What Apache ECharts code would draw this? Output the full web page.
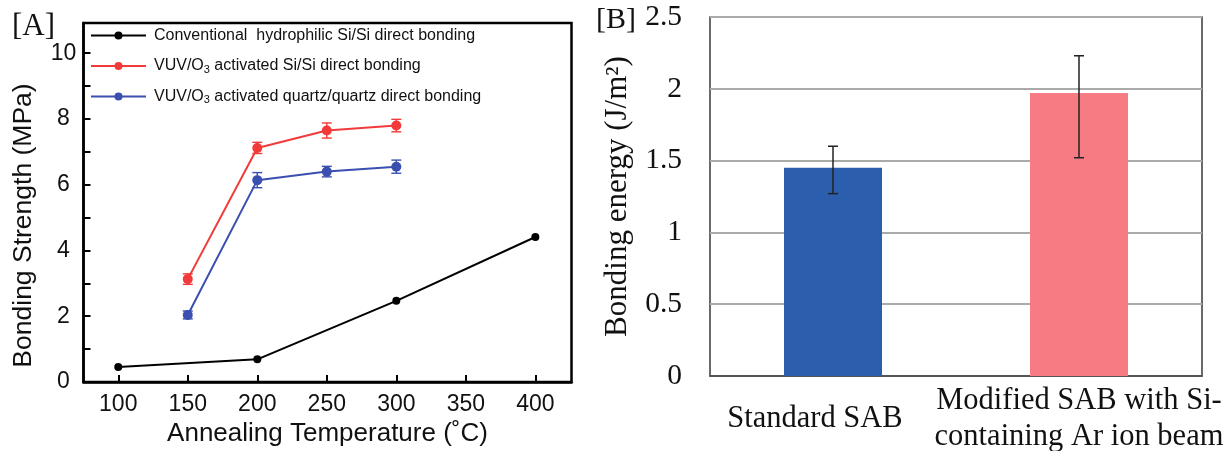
<!DOCTYPE html>
<html><head><meta charset="utf-8">
<script src="https://cdn.jsdelivr.net/npm/echarts@6/dist/echarts.min.js"></script>
<style>html,body{margin:0;padding:0;background:#fff}#c{width:1228px;height:451px}</style>
</head><body><div id="c"></div>
<script>
// ---- Panel A data ----
const tempsConv = [100, 200, 300, 400];
const convVals = [0.46, 0.69, 2.47, 4.41];
const tempsAct = [150, 200, 250, 300];
const siVals = [3.13, 7.12, 7.65, 7.80];
const siErr = [0.16, 0.17, 0.23, 0.19];
const qzVals = [2.04, 6.14, 6.40, 6.55];
const qzErr = [0.12, 0.23, 0.16, 0.20];
const xTicksA = [100, 150, 200, 250, 300, 350, 400];
const yLabelsA = [0, 2, 4, 6, 8, 10];
const yTicksA = [0, 1, 2, 3, 4, 5, 6, 7, 8, 9, 10];
const seriesNamesA = [
  'Conventional  hydrophilic Si/Si direct bonding',
  'VUV/O3 activated Si/Si direct bonding',
  'VUV/O3 activated quartz/quartz direct bonding'
];
// ---- Panel B data ----
const bCats = ['Standard SAB', 'Modified SAB with Si-\ncontaining Ar ion beam'];
const bVals = [1.45, 1.97];
const bLow = [1.27, 1.52];
const bHigh = [1.60, 2.23];

const colA = ['#000000', '#f23a3a', '#3a4fb0'];
const colB = ['#2b5fad', '#f77b83'];
const sans = 'Liberation Sans, Arial, sans-serif';
const serif = 'Liberation Serif, Times New Roman, serif';

function errRender(color, half, lw) {
  return function (params, api) {
    const x = api.value(0);
    const lo = api.coord([x, api.value(1)]);
    const hi = api.coord([x, api.value(2)]);
    const st = { stroke: color, lineWidth: lw };
    return { type: 'group', children: [
      { type: 'line', shape: { x1: lo[0], y1: lo[1], x2: hi[0], y2: hi[1] }, style: st },
      { type: 'line', shape: { x1: lo[0] - half, y1: lo[1], x2: lo[0] + half, y2: lo[1] }, style: st },
      { type: 'line', shape: { x1: hi[0] - half, y1: hi[1], x2: hi[0] + half, y2: hi[1] }, style: st }
    ]};
  };
}

const bLabelStyle = { verticalAlign: 'middle', fontFamily: serif, fontSize: 30.5, lineHeight: 36, color: '#111' };

const chart = echarts.init(document.getElementById('c'), null, { renderer: 'canvas' });
chart.setOption({
  backgroundColor: '#fff',
  animation: false,
  title: [
    { text: '[A]', left: 12, top: 11, padding: 0, textStyle: { fontFamily: serif, fontSize: 31, fontWeight: 'normal', color: '#111' } },
    { text: '[B]', left: 591, top: 0, textStyle: { fontFamily: serif, fontSize: 30, fontWeight: 'normal', color: '#111' } }
  ],
  grid: [
    { left: 83.5, top: 23, width: 488, height: 359, outerBoundsMode: 'none', containLabel: false,
      show: true, borderColor: '#000', borderWidth: 2.5, backgroundColor: 'transparent' },
    { left: 710, top: 17, width: 492, height: 359, outerBoundsMode: 'none', containLabel: false,
      show: true, borderColor: '#3a3a3a', borderWidth: 1.5, backgroundColor: 'transparent' }
  ],
  legend: {
    left: 85, top: 20.5, orient: 'vertical', padding: 5,
    itemWidth: 55, itemHeight: 10, itemGap: 10.5,
    data: seriesNamesA,
    formatter: function (n) { return n.replace('O3', 'O{sub|3}'); },
    textStyle: {
      fontFamily: sans, fontSize: 16, color: '#111', lineHeight: 20, padding: [0, 0, 0, 3],
      rich: { sub: { fontFamily: sans, fontSize: 11, color: '#111', padding: [7, 0, 0, 0] } }
    }
  },
  xAxis: [
    {
      gridIndex: 0, type: 'value', min: 75, max: 426,
      name: 'Annealing Temperature (˚C)', nameLocation: 'middle', nameGap: 38,
      nameTextStyle: { fontFamily: sans, fontSize: 26, color: '#111' },
      axisLine: { show: true, lineStyle: { color: '#000', width: 2.5 } },
      axisTick: { show: true, inside: true, length: 7, customValues: xTicksA, lineStyle: { color: '#000', width: 2 } },
      axisLabel: { customValues: xTicksA, margin: 11, fontFamily: sans, fontSize: 23, color: '#111' },
      splitLine: { show: false }
    },
    {
      gridIndex: 1, type: 'category',
      data: bCats.map((c, i) => i === 0
        ? { value: c, textStyle: Object.assign({}, bLabelStyle, { padding: [0, 36, 20, 0] }) }
        : c),
      axisLine: { show: true, lineStyle: { color: '#3a3a3a', width: 1.5 } },
      axisTick: { show: false },
      axisLabel: Object.assign({ margin: 43, interval: 0 }, bLabelStyle),
      splitLine: { show: false }
    }
  ],
  yAxis: [
    {
      gridIndex: 0, type: 'value', min: 0, max: 10.92,
      name: 'Bonding Strength (MPa)', nameLocation: 'middle', nameGap: 46,
      nameTextStyle: { fontFamily: sans, fontSize: 26.5, color: '#111', padding: [0, 46, 0, 0] },
      axisLine: { show: true, lineStyle: { color: '#000', width: 2.5 } },
      axisTick: { show: true, inside: true, length: 7, customValues: yTicksA, lineStyle: { color: '#000', width: 2 } },
      axisLabel: { customValues: yLabelsA, margin: 20, align: 'center', fontFamily: sans, fontSize: 23, color: '#111' },
      splitLine: { show: false }
    },
    {
      gridIndex: 1, type: 'value', min: 0, max: 2.5, interval: 0.5,
      name: 'Bonding energy (J/m²)', nameLocation: 'middle', nameGap: 77,
      nameTextStyle: { fontFamily: serif, fontSize: 31, color: '#111' },
      axisLine: { show: false },
      axisTick: { show: false },
      axisLabel: { margin: 28, fontFamily: serif, fontSize: 29.5, color: '#111',
        formatter: function (v) { return String(v); } },
      splitLine: { show: true, lineStyle: { color: '#aaaaaa', width: 2 } }
    }
  ],
  series: [
    {
      name: seriesNamesA[0], type: 'line', xAxisIndex: 0, yAxisIndex: 0,
      data: tempsConv.map((t, i) => [t, convVals[i]]),
      symbol: 'circle', symbolSize: 8, color: colA[0],
      lineStyle: { color: colA[0], width: 2 }, itemStyle: { color: colA[0] }
    },
    {
      name: seriesNamesA[1], type: 'line', xAxisIndex: 0, yAxisIndex: 0,
      data: tempsAct.map((t, i) => [t, siVals[i]]),
      symbol: 'circle', symbolSize: 10, color: colA[1],
      lineStyle: { color: colA[1], width: 2 }, itemStyle: { color: colA[1] }
    },
    {
      name: seriesNamesA[2], type: 'line', xAxisIndex: 0, yAxisIndex: 0,
      data: tempsAct.map((t, i) => [t, qzVals[i]]),
      symbol: 'circle', symbolSize: 10, color: colA[2],
      lineStyle: { color: colA[2], width: 2 }, itemStyle: { color: colA[2] }
    },
    {
      type: 'custom', xAxisIndex: 0, yAxisIndex: 0, silent: true, z: 5,
      renderItem: errRender(colA[1], 5, 1.4),
      data: tempsAct.map((t, i) => [t, siVals[i] - siErr[i], siVals[i] + siErr[i]])
    },
    {
      type: 'custom', xAxisIndex: 0, yAxisIndex: 0, silent: true, z: 5,
      renderItem: errRender(colA[2], 5, 1.4),
      data: tempsAct.map((t, i) => [t, qzVals[i] - qzErr[i], qzVals[i] + qzErr[i]])
    },
    {
      type: 'bar', xAxisIndex: 1, yAxisIndex: 1, barWidth: 98,
      data: bVals.map((v, i) => ({ value: v, itemStyle: { color: colB[i] } }))
    },
    {
      type: 'custom', xAxisIndex: 1, yAxisIndex: 1, silent: true, z: 5,
      renderItem: errRender('#222', 5, 1.5),
      data: bVals.map((v, i) => [i, bLow[i], bHigh[i]])
    }
  ]
});
</script>
</body></html>
